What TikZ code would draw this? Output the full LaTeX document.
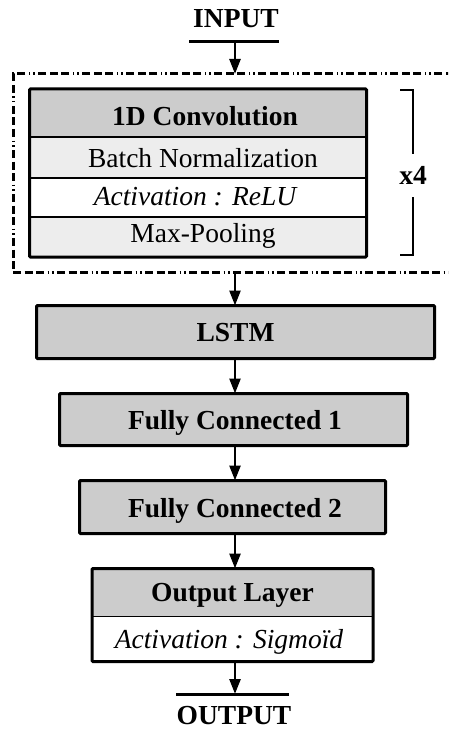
\documentclass[tikz,border=0pt]{standalone}
\usepackage{fontspec}
\setmainfont{Liberation Serif}
\usetikzlibrary{arrows.meta}
\definecolor{hdr}{HTML}{CCCCCC}
\definecolor{lite}{HTML}{EDEDED}
\begin{document}
\begin{tikzpicture}[x=1pt,y=-1pt,
  txt/.style={anchor=base,inner sep=0pt,font=\fontsize{27.5}{32}\selectfont},
  btxt/.style={txt,font=\fontsize{27.5}{32}\selectfont\bfseries},
  itxt/.style={txt,font=\fontsize{27.5}{32}\selectfont\itshape},
  rowbox/.style={draw,line width=1.5pt,inner sep=0pt,outer sep=0pt},
  layer/.style={draw,line width=3pt,fill=hdr,inner sep=0pt,outer sep=0pt,rounded corners=1pt},
  frame/.style={draw,line width=3pt,rounded corners=1pt},
  conn/.style={-{Triangle[length=15pt,width=11pt]},line width=2.6pt},
  bar/.style={line width=3pt},
  repbox/.style={draw,line width=3pt,inner sep=0pt,outer sep=0pt,
    dash pattern=on 8pt off 3.5pt on 8pt off 3.5pt on 8pt off 3.5pt on 1.5pt off 3pt on 1.5pt off 3.5pt},
  brk/.style={line width=1.3pt}]
\useasboundingbox (0,0) rectangle (448,733);
\fill[white] (0,0) rectangle (448,733);
\coordinate (ax) at (235,0);

% input
\node[btxt] (inp) at (236,28) {INPUT};
\coordinate (inl1) at (189,42);
\coordinate (inl2) at (279,42);
\coordinate (inl) at (235,42);
\draw[bar] (inl1) -- (inl2);

% repeated block
\begin{scope}
\clip (0,0) rectangle (448,733);
\node[repbox,minimum width=457pt,minimum height=198pt] (rep) at (241.5,173) {};
\end{scope}
\draw[conn] (inl) -- (inl |- rep.north);

\node[rowbox,fill=hdr,minimum width=337pt,minimum height=48pt] (conv) at (198,113) {};
\node[rowbox,fill=lite,minimum width=337pt,minimum height=41pt] (bn) at (198,157.5) {};
\node[rowbox,fill=white,minimum width=337pt,minimum height=39pt] (act) at (198,197.5) {};
\node[rowbox,fill=lite,minimum width=337pt,minimum height=40pt] (pool) at (198,237) {};
\draw[frame] (conv.north west) rectangle (pool.south east);
\node[btxt] (convt) at (205,126) {1D Convolution};
\node[txt] (bnt) at (203,167) {Batch Normalization};
\node[itxt] (actt) at (195,205.5) {Activation : ReLU};
\node[txt] (poolt) at (203,242) {Max-Pooling};

% bracket
\node[btxt] (x4) at (413,184) {x4};
\coordinate (b1) at (400,90);
\coordinate (b2) at (413,90);
\coordinate (b3) at (413,154);
\coordinate (b4) at (413,197);
\coordinate (b5) at (413,255);
\coordinate (b6) at (400,255);
\draw[brk] (b1) -- (b2) -- (b3);
\draw[brk] (b4) -- (b5) -- (b6);

% LSTM and FC
\node[layer,minimum width=398pt,minimum height=53pt] (lstm) at (235.5,332) {};
\node[btxt] at (235.5,341) {LSTM};
\node[layer,minimum width=348pt,minimum height=52pt] (fc1) at (233.5,419.5) {};
\node[btxt] at (235,429) {Fully Connected 1};
\node[layer,minimum width=306pt,minimum height=53pt] (fc2) at (232.5,507) {};
\node[btxt] at (235,517) {Fully Connected 2};

% output layer
\node[rowbox,fill=hdr,minimum width=281pt,minimum height=48pt] (outh) at (232.5,592.5) {};
\node[rowbox,fill=white,minimum width=281pt,minimum height=45pt] (outa) at (232.5,639) {};
\draw[frame] (outh.north west) rectangle (outa.south east);
\node[btxt] at (232.5,601) {Output Layer};
\node[itxt] at (229,648) {Activation : Sigmoïd};

% connectors
\draw[conn] (rep.south -| ax) -- (lstm.north -| ax);
\draw[conn] (lstm.south -| ax) -- (fc1.north -| ax);
\draw[conn] (fc1.south -| ax) -- (fc2.north -| ax);
\draw[conn] (fc2.south -| ax) -- (outh.north -| ax);
\coordinate (ol1) at (176,694);
\coordinate (ol2) at (289,694);
\draw[conn] (outa.south -| ax) -- (ol1 -| ax);
\draw[bar] (ol1) -- (ol2);
\node[btxt] (outp) at (234,724) {OUTPUT};
\end{tikzpicture}
\end{document}
